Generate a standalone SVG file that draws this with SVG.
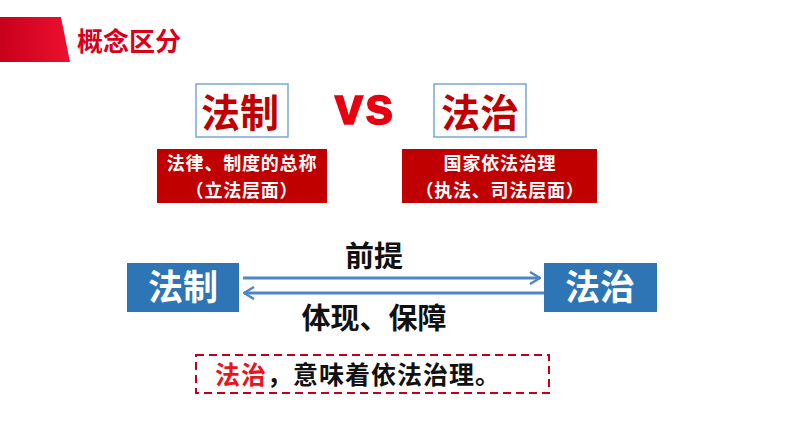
<svg xmlns="http://www.w3.org/2000/svg" width="794" height="447" viewBox="0 0 794 447">
<defs>
<linearGradient id="hdr" x1="0" y1="0" x2="1" y2="0">
<stop offset="0" stop-color="#c8001c"/>
<stop offset="1" stop-color="#ec1030"/>
</linearGradient>
<marker id="chev" viewBox="0 0 12 14" refX="11" refY="7" markerWidth="12" markerHeight="14" markerUnits="userSpaceOnUse" orient="auto">
<path d="M1,1 L11,7 L1,13" fill="none" stroke="#4f86c6" stroke-width="2.5"/>
</marker>
<style>
.cjk{font-family:"Noto Sans CJK SC","Liberation Sans",sans-serif;font-weight:bold}
.title{font-size:39px;fill:#c00000;text-anchor:middle}
.tbox{fill:#fff;stroke:#7aa6d2;stroke-width:1.5}
.rbox{fill:#c00000}
.rtxt{font-size:18px;fill:#fff;text-anchor:middle}
.bbox{fill:#2e75b6}
.btxt{font-size:35px;fill:#fff;text-anchor:middle}
.lbl{font-size:29px;fill:#111;text-anchor:middle}
.conn{fill:none;stroke:#4f86c6;stroke-width:3}
</style>
</defs>
<g id="header">
<polygon points="0,17 61,17 70,62 0,62" fill="url(#hdr)"/>
<text x="77" y="51" class="cjk" font-size="26" fill="#d9001b">概念区分</text>
</g>
<g id="title-fazhi1">
<rect class="tbox" x="196" y="84" width="92" height="53"/>
<text x="240" y="127" class="cjk title">法制</text>
</g>
<g id="vs">
<text x="365" y="124" font-family="Liberation Sans,Arial,sans-serif" font-weight="bold" font-size="51" fill="#e60012" stroke="#e60012" stroke-width="1.5" letter-spacing="2" text-anchor="middle">vs</text>
</g>
<g id="title-fazhi2">
<rect class="tbox" x="434" y="84" width="92" height="53"/>
<text x="480" y="127" class="cjk title">法治</text>
</g>
<g id="def1">
<rect class="rbox" x="157" y="149" width="170" height="54"/>
<text x="242" y="170" class="cjk rtxt" letter-spacing="0.8">法律、制度的总称</text>
<text x="242" y="197" class="cjk rtxt" letter-spacing="0.8">（立法层面）</text>
</g>
<g id="def2">
<rect class="rbox" x="402" y="149" width="195" height="54"/>
<text x="500" y="170" class="cjk rtxt" letter-spacing="0.8">国家依法治理</text>
<text x="500" y="197" class="cjk rtxt" letter-spacing="0.8">（执法、司法层面）</text>
</g>
<g id="node-fazhi1">
<rect class="bbox" x="127" y="263" width="112" height="49"/>
<text x="183" y="300" class="cjk btxt">法制</text>
</g>
<g id="node-fazhi2">
<rect class="bbox" x="544" y="263" width="113" height="49"/>
<text x="600" y="300" class="cjk btxt">法治</text>
</g>
<g id="connectors">
<line class="conn" x1="243" y1="278" x2="540" y2="278" marker-end="url(#chev)"/>
<line class="conn" x1="544" y1="293" x2="244" y2="293" marker-end="url(#chev)"/>
<text x="374" y="267" class="cjk lbl">前提</text>
<text x="374" y="329" class="cjk lbl">体现、保障</text>
</g>
<g id="note">
<rect x="196" y="355" width="353" height="38" fill="none" stroke="#c0001a" stroke-width="2" stroke-dasharray="8,5"/>
<text x="215" y="384" class="cjk" font-size="25" letter-spacing="1"><tspan fill="#e8141e">法治</tspan><tspan fill="#111">，意味着依法治理。</tspan></text>
</g>
</svg>
